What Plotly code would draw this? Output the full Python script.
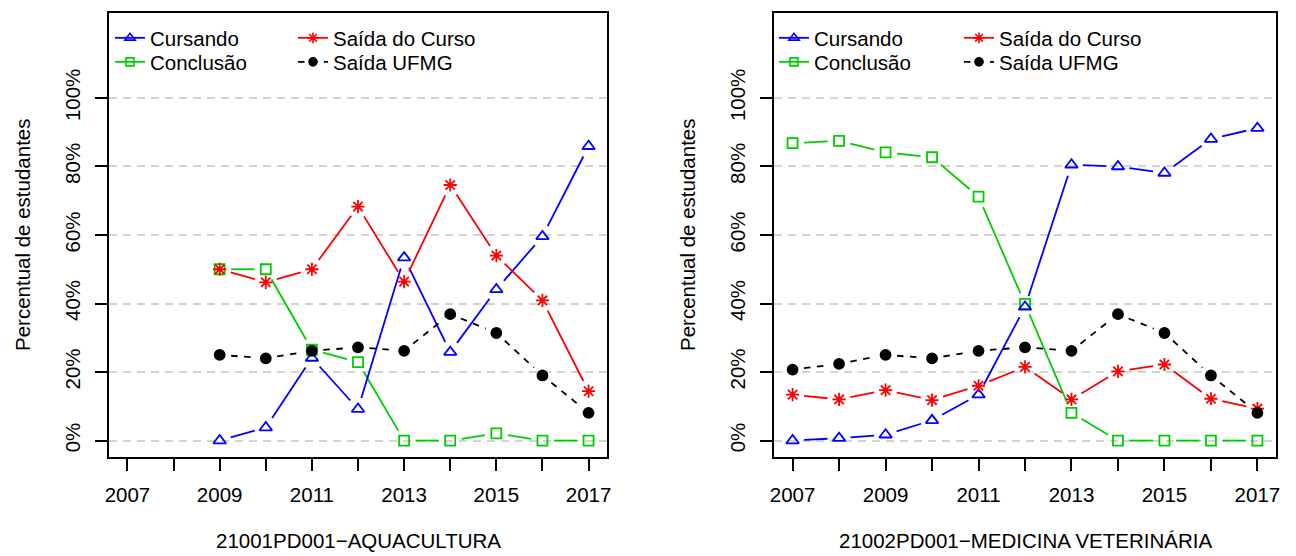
import plotly.graph_objects as go

# ---- data -------------------------------------------------------------
years_aq = [2009, 2010, 2011, 2012, 2013, 2014, 2015, 2016, 2017]
aq_cursando = [0.0, 3.8, 24.1, 9.2, 53.4, 25.8, 44.1, 59.6, 85.9]
aq_saida_curso = [50.0, 46.2, 50.0, 68.3, 46.4, 74.6, 54.0, 40.9, 14.4]
aq_conclusao = [50.0, 50.0, 26.5, 22.9, 0.0, 0.0, 2.1, 0.0, 0.0]
aq_saida_ufmg = [25.0, 24.0, 26.2, 27.2, 26.2, 36.9, 31.4, 19.0, 8.1]

years_mv = [2007, 2008, 2009, 2010, 2011, 2012, 2013, 2014, 2015, 2016, 2017]
mv_cursando = [0.0, 0.7, 1.7, 5.9, 13.4, 39.0, 80.5, 80.0, 78.1, 88.0, 91.2]
mv_saida_curso = [13.4, 12.0, 14.7, 11.8, 16.0, 21.5, 12.0, 20.2, 22.2, 12.2, 9.3]
mv_conclusao = [86.8, 87.5, 84.1, 82.7, 71.2, 39.9, 8.1, 0.0, 0.0, 0.0, 0.0]
mv_saida_ufmg = [20.7, 22.4, 25.0, 24.0, 26.2, 27.2, 26.2, 36.9, 31.4, 19.0, 8.1]

panel_titles = ["21001PD001\u2212AQUACULTURA", "21002PD001\u2212MEDICINA VETERIN\u00c1RIA"]
y_ticks = [0, 20, 40, 60, 80, 100]
y_ticktext = ["0%", "20%", "40%", "60%", "80%", "100%"]
x_ticks = list(range(2007, 2018))
x_ticktext = [str(y) if y % 2 == 1 else "" for y in x_ticks]

# ---- layout geometry --------------------------------------------------
W, H = 1296, 556
PANELS = [(109, 607), (774, 1276)]      # plot-area left/right in px
TOP, BOTTOM = 13, 457                    # plot-area top/bottom in px
XR = [2006.6, 2017.4]
YR = [-4.8, 124.8]
FONT = "Liberation Sans, Arial, Helvetica, sans-serif"
FS = 20.5

series_style = [
    # name, colour, symbol, size, dash
    ("Conclus\u00e3o", "#00CD00", "square-open", 10, "solid"),
    ("Cursando", "#0000FF", "triangle-up-open", 11, "solid"),
    ("Sa\u00edda do Curso", "#FF0000", "asterisk-open", 11, "solid"),
    ("Sa\u00edda UFMG", "#000000", "circle", 10, "6.5px,6.5px"),
]


def gapped(xs, ys, sx, sy, gap=11.5):
    """Line segments between consecutive points, trimmed near each point
    (like a 'both' line type), in data units."""
    gx, gy = [], []
    for i in range(len(xs) - 1):
        dx = (xs[i + 1] - xs[i]) * sx
        dy = (ys[i + 1] - ys[i]) * sy
        L = (dx * dx + dy * dy) ** 0.5
        if L <= 2 * gap:
            continue
        t = gap / L
        gx += [xs[i] + t * (xs[i + 1] - xs[i]), xs[i + 1] - t * (xs[i + 1] - xs[i]), None]
        gy += [ys[i] + t * (ys[i + 1] - ys[i]), ys[i + 1] - t * (ys[i + 1] - ys[i]), None]
    return gx, gy


fig = go.Figure()

panels_data = [
    (years_aq, [aq_conclusao, aq_cursando, aq_saida_curso, aq_saida_ufmg]),
    (years_mv, [mv_conclusao, mv_cursando, mv_saida_curso, mv_saida_ufmg]),
]

for p, (years, values) in enumerate(panels_data):
    xa = "x" if p == 0 else "x2"
    ya = "y" if p == 0 else "y2"
    left, right = PANELS[p]
    sx = (right - left) / (XR[1] - XR[0])
    sy = (BOTTOM - TOP) / (YR[1] - YR[0])
    for (name, col, sym, size, dash), vals in zip(series_style, values):
        gx, gy = gapped(years, vals, sx, sy)
        fig.add_trace(go.Scatter(x=gx, y=gy, mode="lines", xaxis=xa, yaxis=ya,
                                 line=dict(color=col, width=1.8, dash=dash),
                                 showlegend=False, hoverinfo="skip"))
        fig.add_trace(go.Scatter(x=years, y=vals, mode="markers", xaxis=xa, yaxis=ya,
                                 marker=dict(symbol=sym, size=size, color=col,
                                             line=dict(color=col, width=1.8)),
                                 showlegend=False, name=name))

# legend: 2 x 2 grid of entries in each panel, one legend box per entry
legend_grid = [["Cursando", "Sa\u00edda do Curso"], ["Conclus\u00e3o", "Sa\u00edda UFMG"]]
legend_col_px = [[110, 293], [774, 959]]
legend_row_px = [38, 62]
style_by_name = {s[0]: s for s in series_style}
legend_layouts = {}
k = 0
for p in range(2):
    xa = "x" if p == 0 else "x2"
    ya = "y" if p == 0 else "y2"
    for r in range(2):
        for c in range(2):
            k += 1
            lname = "legend" if k == 1 else f"legend{k}"
            name = legend_grid[r][c]
            _, col, sym, size, dash = style_by_name[name]
            fig.add_trace(go.Scatter(x=[None], y=[None], mode="lines+markers",
                                     xaxis=xa, yaxis=ya, name=name, legend=lname,
                                     line=dict(color=col, width=1.8, dash=dash),
                                     marker=dict(symbol=sym, size=size - 2, color=col,
                                                 line=dict(color=col, width=1.6))))
            legend_layouts[lname] = dict(
                x=legend_col_px[p][c] / W, y=1 - legend_row_px[r] / H,
                xanchor="left", yanchor="middle",
                orientation="v", bgcolor="rgba(0,0,0,0)", borderwidth=0,
                font=dict(family=FONT, size=FS, color="black"),
                itemwidth=30,
            )

axis_common = dict(showline=True, linecolor="black", linewidth=2, mirror=True,
                   ticks="outside", ticklen=12, tickwidth=2, tickcolor="black",
                   zeroline=False, automargin=False,
                   tickfont=dict(family=FONT, size=FS, color="black"))

layout = dict(
    width=W, height=H, margin=dict(l=0, r=0, t=0, b=0),
    paper_bgcolor="white", plot_bgcolor="white",
    font=dict(family=FONT, size=FS, color="black"),
    showlegend=True,
)
ydom = [(H - BOTTOM) / H, (H - TOP) / H]
for p in range(2):
    left, right = PANELS[p]
    sfx = "" if p == 0 else "2"
    layout["xaxis" + sfx] = dict(domain=[left / W, right / W], range=XR,
                                 tickvals=x_ticks, ticktext=x_ticktext, showgrid=False,
                                 ticklabelstandoff=6,
                                 anchor="y" + sfx, **axis_common)
    layout["yaxis" + sfx] = dict(domain=ydom, range=YR, tickvals=y_ticks,
                                 ticktext=y_ticktext, tickangle=-90, showgrid=True,
                                 gridcolor="#D3D3D3", gridwidth=2, griddash="8px,6px",
                                 ticklabelstandoff=7,
                                 anchor="x" + sfx, **axis_common)
layout.update(legend_layouts)
fig.update_layout(**layout)

# axis titles and panel captions
for p in range(2):
    left, right = PANELS[p]
    fig.add_annotation(text="Percentual de estudantes", textangle=-90,
                       x=(left - 87) / W, y=1 - ((TOP + BOTTOM) / 2) / H,
                       xref="paper", yref="paper", xanchor="center", yanchor="middle",
                       showarrow=False, font=dict(family=FONT, size=FS, color="black"))
    fig.add_annotation(text=panel_titles[p],
                       x=((left + right) / 2) / W, y=2 / H,
                       xref="paper", yref="paper", xanchor="center", yanchor="bottom",
                       showarrow=False, font=dict(family=FONT, size=FS, color="black"))

fig.write_html("out.html")
